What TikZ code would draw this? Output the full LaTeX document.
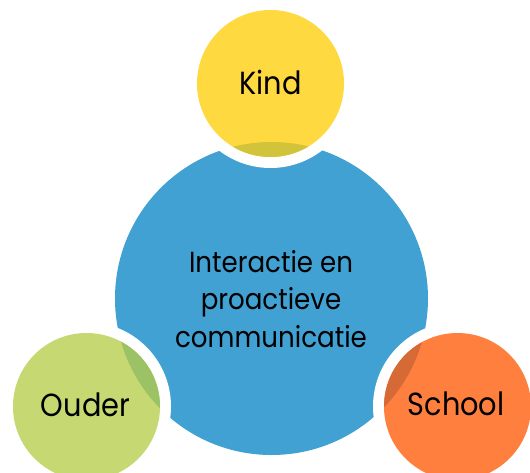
\documentclass[tikz,border=0pt]{standalone}
\usepackage{fontspec}
\newfontfamily\labfont[FakeStretch=0.9]{Poppins}
\definecolor{cblue}{HTML}{41A1D3}
\definecolor{cyel}{HTML}{FFD93F}
\definecolor{cyeld}{HTML}{D1C43A}
\definecolor{cgrn}{HTML}{C6D871}
\definecolor{cgrnd}{HTML}{9BC264}
\definecolor{corg}{HTML}{FF7F3F}
\definecolor{corgd}{HTML}{D56A37}
\begin{document}
\begin{tikzpicture}[x=1pt,y=-1pt,
  lab/.style={font=\labfont\fontsize{32}{37}\selectfont, text=black, inner sep=0pt, anchor=base},
  mainlab/.style={font=\labfont\fontsize{29}{37.5}\selectfont, text=black, inner sep=0pt, align=center, anchor=base}]
\useasboundingbox (0,0) rectangle (530,472);
\def\br{156.5}
\def\sr{73.5}
\def\hr{84.5}
\coordinate (cm) at (271.5,298.5);
\coordinate (ck) at (270.5,83.5);
\coordinate (co) at (86.5,406.5);
\coordinate (cs) at (457.5,406.5);
\fill[cblue] (cm) circle (\br);
\foreach \c/\col/\dcol in {ck/cyel/cyeld, co/cgrn/cgrnd, cs/corg/corgd}{
  \fill[white] (\c) circle (\hr);
  \fill[\col] (\c) circle (\sr);
  \begin{scope}
    \clip (\c) circle (\sr);
    \fill[\dcol] (cm) circle (\br);
  \end{scope}
}
\node[mainlab] (main) at (271,347) {Interactie en\\proactieve\\communicatie};
\node[lab] (kind) at (270.5,94) {Kind};
\node[lab] (ouder) at (85.5,416) {Ouder};
\node[lab] (school) at (456,415) {School};
\end{tikzpicture}
\end{document}
